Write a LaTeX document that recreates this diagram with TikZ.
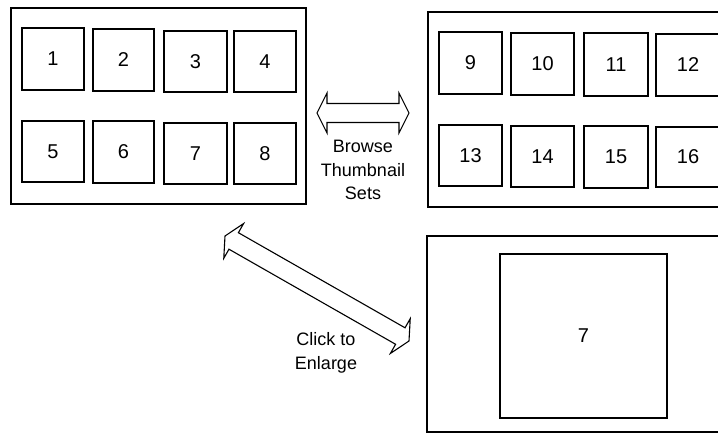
\documentclass[tikz,border=0pt]{standalone}
\usepackage{fontspec}
\setmainfont{Liberation Sans}
\usetikzlibrary{calc}
\newcommand{\DblBlockArrow}[2]{%
  \coordinate (#1h) at ($(#1)!10pt!(#2)$);
  \coordinate (#2h) at ($(#2)!10pt!(#1)$);
  \draw[blockarrow] (#1)
    -- ($(#1h)!20pt!90:(#2)$) -- ($(#1h)!9.5pt!90:(#2)$)
    -- ($(#2h)!9.5pt!-90:(#1)$) -- ($(#2h)!20pt!-90:(#1)$)
    -- (#2)
    -- ($(#2h)!20pt!90:(#1)$) -- ($(#2h)!9.5pt!90:(#1)$)
    -- ($(#1h)!9.5pt!-90:(#2)$) -- ($(#1h)!20pt!-90:(#2)$)
    -- cycle;}
\begin{document}
\begin{tikzpicture}[x=1pt,y=-1pt,
  panel/.style={draw, line width=1.5pt, inner sep=0pt},
  thumb/.style={draw, line width=1.4pt, inner sep=0pt, font=\fontsize{20}{24}\selectfont},
  blockarrow/.style={draw, line width=1.1pt, line join=miter},
  lbl/.style={align=center, inner sep=0pt, font=\fontsize{18}{23.5}\selectfont}]
\clip (0,0) rectangle (718,435);
\fill[white] (0,0) rectangle (718,435);
% panels
\node[panel, minimum width=295pt, minimum height=196pt] (P1) at (158.5,106) {};
\node[panel, minimum width=302pt, minimum height=195pt] (P2) at (579,109.5) {};
\node[panel, minimum width=303pt, minimum height=196pt] (P3) at (578.5,334) {};
% thumbnails, first set
\node[thumb, minimum width=62pt, minimum height=62pt] (t1) at (53,59) {1};
\node[thumb, minimum width=61pt, minimum height=62pt] (t2) at (123.5,60) {2};
\node[thumb, minimum width=63pt, minimum height=61pt] (t3) at (195.5,61.5) {3};
\node[thumb, minimum width=62pt, minimum height=61pt] (t4) at (265,61.5) {4};
\node[thumb, minimum width=62pt, minimum height=61pt] (t5) at (53,151.5) {5};
\node[thumb, minimum width=61pt, minimum height=62pt] (t6) at (123.5,152) {6};
\node[thumb, minimum width=63pt, minimum height=61pt] (t7) at (195.5,153.5) {7};
\node[thumb, minimum width=62pt, minimum height=61pt] (t8) at (265,153.5) {8};
% thumbnails, second set
\node[thumb, minimum width=63pt, minimum height=62pt] (t9) at (470.5,63) {9};
\node[thumb, minimum width=63pt, minimum height=62pt] (t10) at (542.5,64) {10};
\node[thumb, minimum width=64pt, minimum height=63pt] (t11) at (616,64.5) {11};
\node[thumb, minimum width=64pt, minimum height=62pt] (t12) at (688,65) {12};
\node[thumb, minimum width=63pt, minimum height=61pt] (t13) at (470.5,155.5) {13};
\node[thumb, minimum width=63pt, minimum height=61pt] (t14) at (542.5,156.5) {14};
\node[thumb, minimum width=64pt, minimum height=62pt] (t15) at (616,157) {15};
\node[thumb, minimum width=64pt, minimum height=60pt] (t16) at (688,157) {16};
% enlarged image
\node[thumb, minimum width=167pt, minimum height=164pt] (big) at (583.5,336) {7};
% arrows
\coordinate (hL) at (317,113);
\coordinate (hR) at (409,113);
\DblBlockArrow{hL}{hR}
\coordinate (dL) at (225,236);
\coordinate (dR) at (409,341);
\DblBlockArrow{dL}{dR}
% labels
\node[lbl] (browse) at (363,170) {Browse\\Thumbnail\\Sets};
\node[lbl] (click) at (326,353) {Click to\\Enlarge};
\end{tikzpicture}
\end{document}
